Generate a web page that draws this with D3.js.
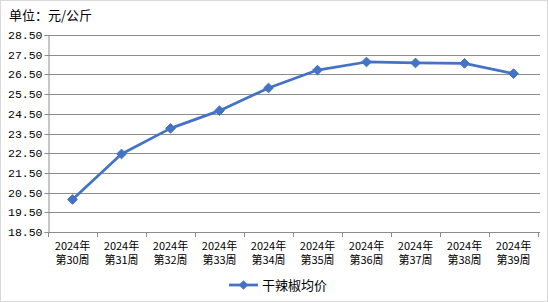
<!DOCTYPE html>
<html>
<head>
<meta charset="utf-8">
<script src="https://cdn.jsdelivr.net/npm/d3@7"></script>
<style>
  body { margin: 0; background: #fff; }
  svg { display: block; font-family: "Noto Sans CJK SC", "DejaVu Sans", sans-serif; }
</style>
</head>
<body>
<svg width="548" height="302"></svg>
<script>
// data
const weeks = ["第30周", "第31周", "第32周", "第33周", "第34周", "第35周", "第36周", "第37周", "第38周", "第39周"];
const years = ["2024年", "2024年", "2024年", "2024年", "2024年", "2024年", "2024年", "2024年", "2024年", "2024年"];
const prices = [20.15, 22.46, 23.76, 24.66, 25.81, 26.72, 27.13, 27.08, 27.06, 26.54];
const yTicks = [18.5, 19.5, 20.5, 21.5, 22.5, 23.5, 24.5, 25.5, 26.5, 27.5, 28.5];
const seriesName = "干辣椒均价";
const unitLabel = "单位：元/公斤";

const w = 548, h = 302;
const margin = { top: 35, bottom: 70, left: 48, right: 10 };

const svg = d3.select("svg");

// outer border
svg.append("rect")
  .attr("x", 0.5).attr("y", 0.5)
  .attr("width", w - 1).attr("height", h - 1)
  .attr("fill", "#fff").attr("stroke", "#d9d9d9");

let xScale = d3.scaleBand()
  .domain(d3.range(weeks.length))
  .range([margin.left, 538]);

let yScale = d3.scaleLinear()
  .domain([18.5, 28.5])
  .range([232, 35]);

// gridlines
svg.append("g")
  .selectAll("line")
  .data(yTicks)
  .enter()
  .append("line")
  .attr("x1", margin.left).attr("x2", 540)
  .attr("y1", d => Math.round(yScale(d)) + 0.5)
  .attr("y2", d => Math.round(yScale(d)) + 0.5)
  .attr("stroke", "#8c8c8c");

// y axis
const yAxis = d3.axisLeft(yScale).tickValues(yTicks).tickFormat(d3.format(".2f")).tickSize(4);
const gy = svg.append("g")
  .attr("transform", `translate(${margin.left + 0.5},0)`)
  .call(yAxis);
gy.select(".domain").attr("stroke", "#8c8c8c");
gy.selectAll(".tick line").attr("stroke", "#8c8c8c");
gy.selectAll(".tick text")
  .attr("x", -6)
  .attr("fill", "#000")
  .style("font-family", "'Liberation Mono', 'DejaVu Sans Mono', monospace")
  .style("font-size", "11.5px");
gy.selectAll(".tick").attr("transform", d => `translate(0,${Math.round(yScale(d)) + 0.5})`);

// x axis: ticks between categories
const xb = svg.append("g");
xb.append("line")
  .attr("x1", margin.left).attr("x2", 540)
  .attr("y1", 232.5).attr("y2", 232.5)
  .attr("stroke", "#8c8c8c");
const bounds = d3.range(weeks.length + 1).map(i => i < weeks.length ? xScale(i) : xScale(i - 1) + xScale.bandwidth());
xb.selectAll("line.tk")
  .data(bounds)
  .enter()
  .append("line")
  .attr("class", "tk")
  .attr("x1", d => Math.round(d) + 0.5).attr("x2", d => Math.round(d) + 0.5)
  .attr("y1", 232).attr("y2", 237)
  .attr("stroke", "#8c8c8c");

const cx = i => xScale(i) + xScale.bandwidth() / 2;

xb.selectAll("text.yr")
  .data(years)
  .enter()
  .append("text")
  .attr("class", "yr")
  .attr("x", (d, i) => cx(i))
  .attr("y", 250)
  .attr("text-anchor", "middle")
  .attr("font-size", "11px")
  .attr("fill", "#000")
  .text(d => d);

xb.selectAll("text.wk")
  .data(weeks)
  .enter()
  .append("text")
  .attr("class", "wk")
  .attr("x", (d, i) => cx(i))
  .attr("y", 264)
  .attr("text-anchor", "middle")
  .attr("font-size", "11px")
  .attr("fill", "#000")
  .text(d => d);

// line
const line = d3.line()
  .x((d, i) => cx(i))
  .y(d => yScale(d));

svg.append("path")
  .datum(prices)
  .attr("d", line)
  .attr("fill", "none")
  .attr("stroke", "#4472c4")
  .attr("stroke-width", 2.75)
  .attr("stroke-linejoin", "round");

const diamond = d3.symbol().type(d3.symbolDiamond2).size(60);
svg.append("g")
  .selectAll("path")
  .data(prices)
  .enter()
  .append("path")
  .attr("d", diamond)
  .attr("transform", (d, i) => `translate(${cx(i)},${yScale(d)})`)
  .attr("fill", "#4472c4")
  .attr("stroke", "#4472c4");

// unit label
svg.append("text")
  .attr("x", 9).attr("y", 20)
  .attr("font-size", "13px")
  .attr("fill", "#000")
  .text(unitLabel);

// legend
const lg = svg.append("g").attr("transform", "translate(229,285)");
lg.append("line")
  .attr("x1", 0).attr("x2", 29)
  .attr("stroke", "#4472c4").attr("stroke-width", 2.75);
lg.append("path")
  .attr("d", diamond)
  .attr("transform", "translate(14.5,0)")
  .attr("fill", "#4472c4");
lg.append("text")
  .attr("x", 33).attr("y", 5)
  .attr("font-size", "13px")
  .attr("fill", "#000")
  .text(seriesName);
</script>
</body>
</html>
